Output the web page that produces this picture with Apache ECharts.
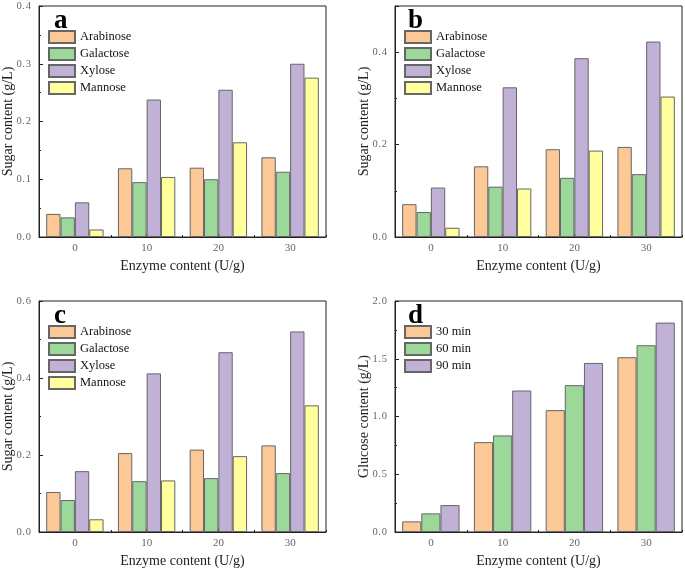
<!DOCTYPE html>
<html><head><meta charset="utf-8">
<script src="https://cdn.jsdelivr.net/npm/echarts@6/dist/echarts.min.js"></script>
<style>html,body{margin:0;padding:0;background:#fff}#c{width:685px;height:571px}</style>
</head><body><div id="c"></div>
<script>
const categories = ['0', '10', '20', '30'];
const sugarNames = ['Arabinose', 'Galactose', 'Xylose', 'Mannose'];
const timeNames = ['30 min', '60 min', '90 min'];

// Panel a
const aArabinose = [0.040, 0.119, 0.120, 0.138];
const aGalactose = [0.034, 0.095, 0.100, 0.113];
const aXylose    = [0.060, 0.238, 0.255, 0.300];
const aMannose   = [0.013, 0.104, 0.164, 0.276];
// Panel b
const bArabinose = [0.071, 0.153, 0.190, 0.195];
const bGalactose = [0.054, 0.109, 0.128, 0.136];
const bXylose    = [0.107, 0.324, 0.387, 0.423];
const bMannose   = [0.020, 0.105, 0.187, 0.304];
// Panel c
const cArabinose = [0.104, 0.205, 0.214, 0.225];
const cGalactose = [0.083, 0.132, 0.140, 0.153];
const cXylose    = [0.158, 0.412, 0.467, 0.521];
const cMannose   = [0.033, 0.134, 0.197, 0.329];
// Panel d
const d30 = [0.092, 0.778, 1.055, 1.513];
const d60 = [0.161, 0.836, 1.271, 1.617];
const d90 = [0.233, 1.225, 1.464, 1.813];

const panelLetters = ['a', 'b', 'c', 'd'];
const yMax = [0.4, 0.5, 0.6, 2.0];
const yInterval = [0.1, 0.2, 0.2, 0.5];
const yNames = ['Sugar content (g/L)', 'Sugar content (g/L)', 'Sugar content (g/L)', 'Glucose content (g/L)'];
const xName = 'Enzyme content (U/g)';

const colors = ['#FBC896', '#9DD89B', '#C1B1D7', '#FFFF9E'];
const SERIF = '"Liberation Serif","Times New Roman",serif';

const grids = [
  {left: 39, top: 6, width: 287, height: 231},
  {left: 395, top: 6, width: 287, height: 231},
  {left: 39, top: 301, width: 287, height: 231},
  {left: 395, top: 301, width: 287, height: 231}
];

const panelData = [
  [aArabinose, aGalactose, aXylose, aMannose],
  [bArabinose, bGalactose, bXylose, bMannose],
  [cArabinose, cGalactose, cXylose, cMannose],
  [d30, d60, d90]
];
const panelNames = [sugarNames, sugarNames, sugarNames, timeNames];

function fmtY(v) {
  const s = v.toFixed(1).split('.');
  return '{d|' + s[0] + '}{p|.}{d|' + s[1] + '}';
}

const xAxes = [], yAxes = [], series = [], legends = [], graphics = [];
grids.forEach((g, i) => {
  g.show = true; g.borderColor = '#222'; g.borderWidth = 1; g.backgroundColor = 'transparent';
  g.containLabel = false; g.outerBoundsMode = 'none';
  xAxes.push({
    type: 'category', gridIndex: i, data: categories,
    name: xName, nameLocation: 'middle', nameGap: 22, nameMoveOverlap: false,
    nameTextStyle: {fontFamily: SERIF, fontSize: 14, color: '#222'},
    axisLine: {lineStyle: {color: '#222'}},
    axisTick: {show: true, inside: true, length: 2, lineStyle: {color: '#222'}},
    axisLabel: {fontFamily: SERIF, fontSize: 11, color: '#666', margin: 6}
  });
  xAxes.push({
    type: 'category', gridIndex: i, data: categories, position: 'bottom',
    axisLine: {show: false},
    axisTick: {show: true, inside: true, alignWithLabel: true, length: 3, lineStyle: {color: '#222'}},
    axisLabel: {show: false}
  });
  yAxes.push({
    type: 'value', gridIndex: i, min: 0, max: yMax[i], interval: yInterval[i],
    name: yNames[i], nameLocation: 'middle', nameGap: 24, nameMoveOverlap: false,
    nameTextStyle: {fontFamily: SERIF, fontSize: 14, color: '#222'},
    axisLine: {show: true, lineStyle: {color: '#222'}},
    axisTick: {show: true, inside: true, length: 4, lineStyle: {color: '#222'}},
    minorTick: {show: true, splitNumber: 2, length: 2, lineStyle: {color: '#222'}},
    splitLine: {show: false},
    axisLabel: {color: '#666', margin: 8, showMaxLabel: i !== 1,
      formatter: fmtY,
      rich: {
        d: {fontFamily: SERIF, fontSize: 10.5, color: '#666'},
        p: {fontFamily: SERIF, fontSize: 10.5, color: '#666', padding: [0, 1, 0, 0.5]}
      }}
  });
  panelData[i].forEach((arr, k) => {
    series.push({
      type: 'bar', name: panelNames[i][k], data: arr,
      xAxisIndex: i * 2, yAxisIndex: i,
      barGap: '0%', barCategoryGap: '20%',
      itemStyle: {color: colors[k], borderColor: '#666', borderWidth: 1},
      emphasis: {disabled: true}
    });
  });
  legends.push({
    orient: 'vertical', left: g.left + 9, top: g.top + 24, padding: 0,
    itemWidth: 26, itemHeight: 12, itemGap: 3,
    data: panelNames[i].map(n => ({name: n, icon: 'rect'})),
    textStyle: {fontFamily: SERIF, fontSize: 12.5, color: '#111'},
    selectedMode: false
  });
  graphics.push({
    type: 'text', left: g.left + (i % 2 === 0 ? 15 : 13), top: g.top + 2,
    style: {text: panelLetters[i], font: 'bold 27px ' + SERIF, fill: '#000'}
  });
});

const chart = echarts.init(document.getElementById('c'));
chart.setOption({
  animation: false,
  grid: grids, xAxis: xAxes, yAxis: yAxes, series: series,
  legend: legends, graphic: graphics
});
</script></body></html>
